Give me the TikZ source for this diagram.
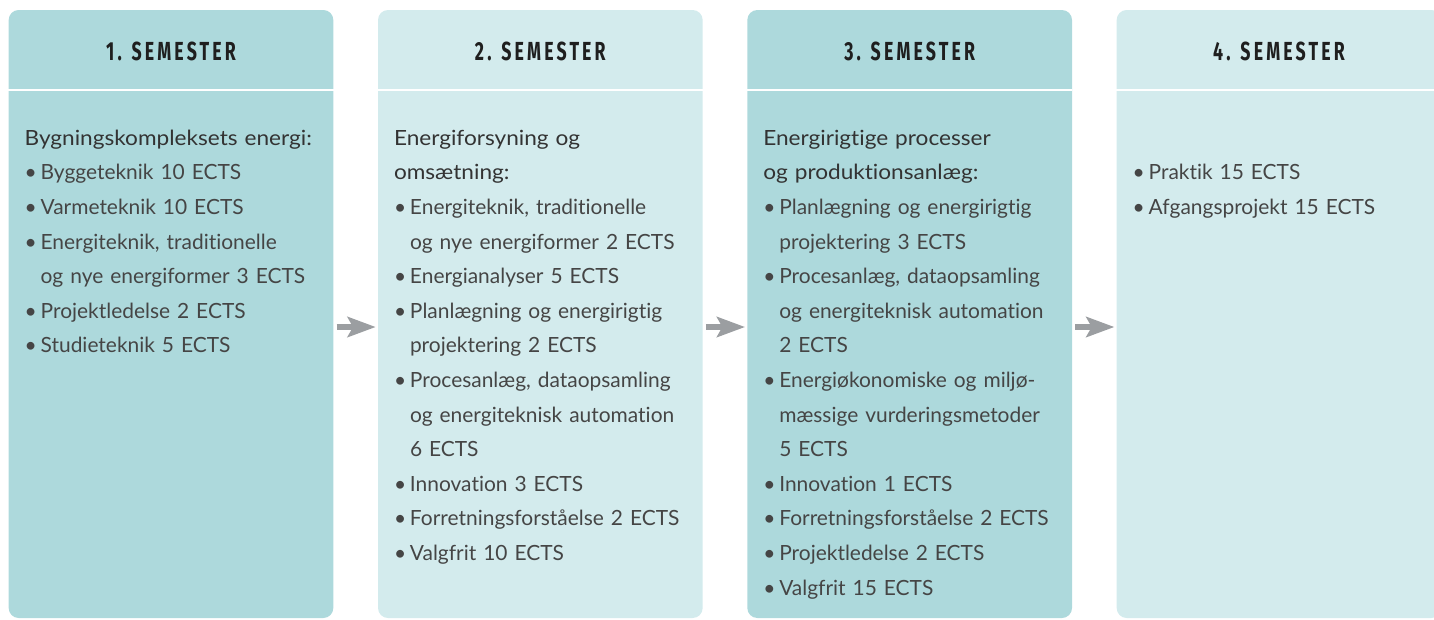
\documentclass[tikz,border=0pt]{standalone}
\usepackage{fontspec}
\setmainfont[Ligatures=NoCommon]{Lato}
\newfontfamily\titlefont[FakeStretch=1.08,Ligatures=NoCommon]{Lato}
\newfontfamily\headfont[FakeStretch=0.68,LetterSpace=12]{Fira Sans}
\usetikzlibrary{arrows.meta,positioning}
\definecolor{semdark}{HTML}{ADD9DC}
\definecolor{semlight}{HTML}{D3EBED}
\definecolor{semtext}{HTML}{454545}
\definecolor{semtitle}{HTML}{333333}
\definecolor{arrowgrey}{HTML}{9B9EA1}
\newcommand{\semtitle}[1]{{\titlefont\color{semtitle}#1}}
\newcommand{\itm}[1]{\par\hangindent=12pt\hangafter=1\makebox[12pt][l]{\textbullet}#1}

\begin{document}
\begin{tikzpicture}[x=0.75pt,y=-0.75pt,node distance=277pt,
    sembox/.style={rounded corners=7.5pt,minimum width=243.5pt,
                   minimum height=456pt,inner sep=0pt},
    semdarkbox/.style={sembox,fill=semdark},
    semlightbox/.style={sembox,fill=semlight},
    semhead/.style={font=\headfont\bfseries\fontsize{19.6pt}{20pt}\selectfont,
                    text=black!88,inner sep=0pt},
    semlist/.style={anchor=base west,inner sep=0pt,text width=236pt,align=left,
                    font=\fontsize{15.7pt}{25.95pt}\selectfont,text=semtext},
    sepline/.style={white,line width=1.5pt},
    steparrow/.style={-{Stealth[length=21pt,width=15pt,inset=4pt]},line width=4.5pt,
                      arrowgrey,shorten <=2.25pt,shorten >=1.5pt}]

    \useasboundingbox (0,0) rectangle (1434,619);

    \node[semdarkbox] (sem1) at (171,314) {};
    \node[semlightbox] (sem2) [right of=sem1] {};
    \node[semdarkbox] (sem3) [right of=sem2] {};
    \node[semlightbox] (sem4) [right of=sem3] {};

    \foreach \n in {1,...,4}
      \draw[sepline] ([yshift=-60pt]sem\n.north west) -- ([yshift=-60pt]sem\n.north east);

    \node[semhead] (head1) at ([yshift=-31.5pt]sem1.north) {1. SEMESTER};
    \node[semhead] (head2) at ([yshift=-31.5pt]sem2.north) {2. SEMESTER};
    \node[semhead] (head3) at ([yshift=-31.5pt]sem3.north) {3. SEMESTER};
    \node[semhead] (head4) at ([yshift=-31.5pt]sem4.north) {4. SEMESTER};

    \node[semlist] (list1) at ([xshift=12pt,yshift=-101.6pt]sem1.north west)
      {\semtitle{Bygningskompleksets energi:}
       \itm{Byggeteknik 10 ECTS}
       \itm{Varmeteknik 10 ECTS}
       \itm{Energiteknik, traditionelle\newline og nye energiformer 3 ECTS}
       \itm{Projektledelse 2 ECTS}
       \itm{Studieteknik 5 ECTS}};
    \node[semlist] (list2) at ([xshift=12pt,yshift=-101.6pt]sem2.north west)
      {\semtitle{Energiforsyning og\newline omsætning:}
       \itm{Energiteknik, traditionelle\newline og nye energiformer 2 ECTS}
       \itm{Energianalyser 5 ECTS}
       \itm{Planlægning og energirigtig\newline projektering 2 ECTS}
       \itm{Procesanlæg, dataopsamling\newline og energiteknisk automation\newline 6 ECTS}
       \itm{Innovation 3 ECTS}
       \itm{Forretningsforståelse 2 ECTS}
       \itm{Valgfrit 10 ECTS}};
    \node[semlist] (list3) at ([xshift=12pt,yshift=-101.6pt]sem3.north west)
      {\semtitle{Energirigtige processer\newline og produktionsanlæg:}
       \itm{Planlægning og energirigtig\newline projektering 3 ECTS}
       \itm{Procesanlæg, dataopsamling\newline og energiteknisk automation\newline 2 ECTS}
       \itm{Energiøkonomiske og miljø-\newline mæssige vurderingsmetoder\newline 5 ECTS}
       \itm{Innovation 1 ECTS}
       \itm{Forretningsforståelse 2 ECTS}
       \itm{Projektledelse 2 ECTS}
       \itm{Valgfrit 15 ECTS}};
    \node[semlist] (list4) at ([xshift=12pt,yshift=-101.6pt]sem4.north west)
      {\itm{Praktik 15 ECTS}
       \itm{Afgangsprojekt 15 ECTS}};

    \draw[steparrow] ([yshift=-9.75pt]sem1.east) -- ([yshift=-9.75pt]sem2.west);
    \draw[steparrow] ([yshift=-9.75pt]sem2.east) -- ([yshift=-9.75pt]sem3.west);
    \draw[steparrow] ([yshift=-9.75pt]sem3.east) -- ([yshift=-9.75pt]sem4.west);
\end{tikzpicture}
\end{document}
